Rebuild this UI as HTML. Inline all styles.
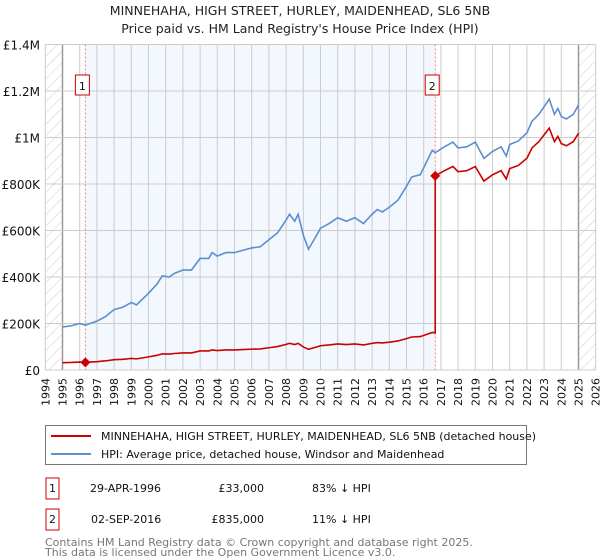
<!DOCTYPE html>
<html><head><meta charset="utf-8"><style>
body{margin:0;background:#fff;font-family:"DejaVu Sans","Liberation Sans",sans-serif;}
svg{display:block}
</style></head><body>
<svg id="chart" width="600" height="560" xmlns="http://www.w3.org/2000/svg">
<defs><pattern id="hatch" width="8" height="8" patternUnits="userSpaceOnUse" patternTransform="rotate(45)"><line x1="0" y1="0" x2="0" y2="8" stroke="#ccc" stroke-width="1"/></pattern></defs>
<text x="300" y="15" text-anchor="middle" font-size="12.5" fill="#222">MINNEHAHA, HIGH STREET, HURLEY, MAIDENHEAD, SL6 5NB</text>
<text x="300" y="33" text-anchor="middle" font-size="12.5" fill="#222">Price paid vs. HM Land Registry's House Price Index (HPI)</text>
<g id="plot"></g>
<rect x="45.5" y="425.5" width="481" height="39" fill="#fff" stroke="#777"/>
<line x1="51" y1="436" x2="91" y2="436" stroke="#cc0000" stroke-width="2"/>
<text x="101" y="440" font-size="11" fill="#111">MINNEHAHA, HIGH STREET, HURLEY, MAIDENHEAD, SL6 5NB (detached house)</text>
<line x1="51" y1="454" x2="91" y2="454" stroke="#5b8fd1" stroke-width="2"/>
<text x="101" y="458" font-size="11" fill="#111">HPI: Average price, detached house, Windsor and Maidenhead</text>
<g font-size="11" fill="#111">
<rect x="46" y="478" width="13" height="21" fill="none" stroke="#c00"/>
<text x="52.5" y="492" text-anchor="middle">1</text>
<text x="90" y="492">29-APR-1996</text>
<text x="264" y="492" text-anchor="end">£33,000</text>
<text x="312" y="492">83% ↓ HPI</text>
<rect x="46" y="509" width="13" height="21" fill="none" stroke="#c00"/>
<text x="52.5" y="523" text-anchor="middle">2</text>
<text x="91" y="523">02-SEP-2016</text>
<text x="264" y="523" text-anchor="end">£835,000</text>
<text x="312" y="523">11% ↓ HPI</text>
</g>
<text x="45" y="546" font-size="11" fill="#777">Contains HM Land Registry data © Crown copyright and database right 2025.</text>
<text x="45" y="556" font-size="11" fill="#777">This data is licensed under the Open Government Licence v3.0.</text>
</svg>
<script>
const hpiYears=[1995.0,1995.5,1996.0,1996.33,1997.0,1997.5,1998.0,1998.5,1999.0,1999.3,2000.0,2000.5,2000.8,2001.2,2001.5,2002.0,2002.5,2003.0,2003.5,2003.7,2004.0,2004.5,2005.0,2005.5,2006.0,2006.5,2007.0,2007.5,2008.0,2008.2,2008.5,2008.7,2009.0,2009.3,2009.7,2010.0,2010.5,2011.0,2011.5,2012.0,2012.5,2013.0,2013.3,2013.6,2014.0,2014.5,2015.0,2015.3,2015.8,2016.2,2016.5,2016.67,2017.2,2017.7,2018.0,2018.5,2019.0,2019.5,2020.0,2020.5,2020.8,2021.0,2021.5,2022.0,2022.3,2022.7,2023.3,2023.6,2023.8,2024.0,2024.3,2024.7,2025.0];
const hpiValues=[185,190,200,193,210,230,260,270,290,280,330,370,405,400,415,430,430,480,480,505,490,505,505,515,525,530,560,590,645,670,640,670,580,520,570,610,630,655,640,655,630,670,690,680,700,730,790,830,840,900,945,935,960,980,955,960,980,910,940,960,920,970,985,1020,1070,1100,1165,1100,1125,1090,1080,1100,1140];
const saleYears=[1996.33,2016.67];
const salePrices=[33,835];
const yTicks=[0,200,400,600,800,1000,1200,1400];
const yTickLabels=["£0","£200K","£400K","£600K","£800K","£1M","£1.2M","£1.4M"];
const xTicks=[1994,1995,1996,1997,1998,1999,2000,2001,2002,2003,2004,2005,2006,2007,2008,2009,2010,2011,2012,2013,2014,2015,2016,2017,2018,2019,2020,2021,2022,2023,2024,2025,2026];

const X0=45.3,X1=595.7,Y0=370,Y1=44.5;
const xs=y=>X0+(y-1994)/(2026-1994)*(X1-X0);
const ys=v=>Y0-v/1400*(Y0-Y1);
const NS="http://www.w3.org/2000/svg";
const g=document.getElementById('plot');
function mk(t,a){const e=document.createElementNS(NS,t);for(const k in a)e.setAttribute(k,a[k]);g.appendChild(e);return e;}
function interp(y){for(let i=0;i<hpiYears.length-1;i++){if(y<=hpiYears[i+1]){const f=(y-hpiYears[i])/(hpiYears[i+1]-hpiYears[i]);return hpiValues[i]+f*(hpiValues[i+1]-hpiValues[i]);}}return hpiValues[hpiValues.length-1];}

let e=mk('rect',{x:xs(saleYears[0]),y:Y1,width:xs(saleYears[1])-xs(saleYears[0]),height:Y0-Y1,fill:'#f3f7fe'});


e=mk('rect',{x:X0,y:Y1,width:xs(1995)-X0,height:Y0-Y1,fill:'url(#hatch)'});


e=mk('rect',{x:xs(2025),y:Y1,width:X1-xs(2025),height:Y0-Y1,fill:'url(#hatch)'});



xTicks.forEach(t=>{
  const l=mk('line',{x1:xs(t),x2:xs(t),y1:Y1,y2:Y0,stroke:(t==1995||t==2025)?'#999':'#ccc','stroke-width':(t==1995||t==2025)?1.5:1});
  
  
  const tx=mk('text',{x:0,y:0,'font-size':11,fill:'#111','text-anchor':'end',transform:`translate(${xs(t)+4},${Y0+8}) rotate(-90)`});
  tx.textContent=t;
  
  
});
yTicks.forEach((t,i)=>{
  const l=mk('line',{x1:X0,x2:X1,y1:ys(t),y2:ys(t),stroke:'#ccc'});
  
  
  const tx=mk('text',{x:40,y:ys(t)+5,'font-size':12,fill:'#111','text-anchor':'end'});
  tx.textContent=yTickLabels[i];
  
  
});
saleYears.forEach((s,i)=>{
  const l=mk('line',{x1:xs(s),x2:xs(s),y1:Y1,y2:Y0,stroke:'#f08080','stroke-dasharray':'2,2'});
  
  
  const r=mk('rect',{x:xs(s)-10,y:75,width:14,height:20,fill:'#fff',stroke:'#c00'});
  
  
  const tx=mk('text',{x:xs(s)-3,y:90,'font-size':11,fill:'#111','text-anchor':'middle'});
  tx.textContent=i+1;
  
  
});
e=mk('polyline',{points:hpiYears.map((y,i)=>xs(y)+','+ys(hpiValues[i])).join(' '),fill:'none',stroke:'#5b8fd1','stroke-width':1.6});


const r1=salePrices[0]/interp(saleYears[0]), r2=salePrices[1]/interp(saleYears[1]);
const pts=[];
hpiYears.forEach((y,i)=>{ if(y<saleYears[1]) pts.push([y,hpiValues[i]*r1]); });
pts.push([saleYears[1],interp(saleYears[1])*r1]);
pts.push([saleYears[1],salePrices[1]]);
hpiYears.forEach((y,i)=>{ if(y>saleYears[1]) pts.push([y,hpiValues[i]*r2]); });
e=mk('polyline',{points:pts.map(p=>xs(p[0])+','+ys(p[1])).join(' '),fill:'none',stroke:'#cc0000','stroke-width':1.6});


saleYears.forEach((s,i)=>{
  const cx=xs(s),cy=ys(salePrices[i]);
  const d=mk('polygon',{points:`${cx},${cy-5} ${cx+5},${cy} ${cx},${cy+5} ${cx-5},${cy}`,fill:'#cc0000'});
  
  
});
</script>
</body></html>
